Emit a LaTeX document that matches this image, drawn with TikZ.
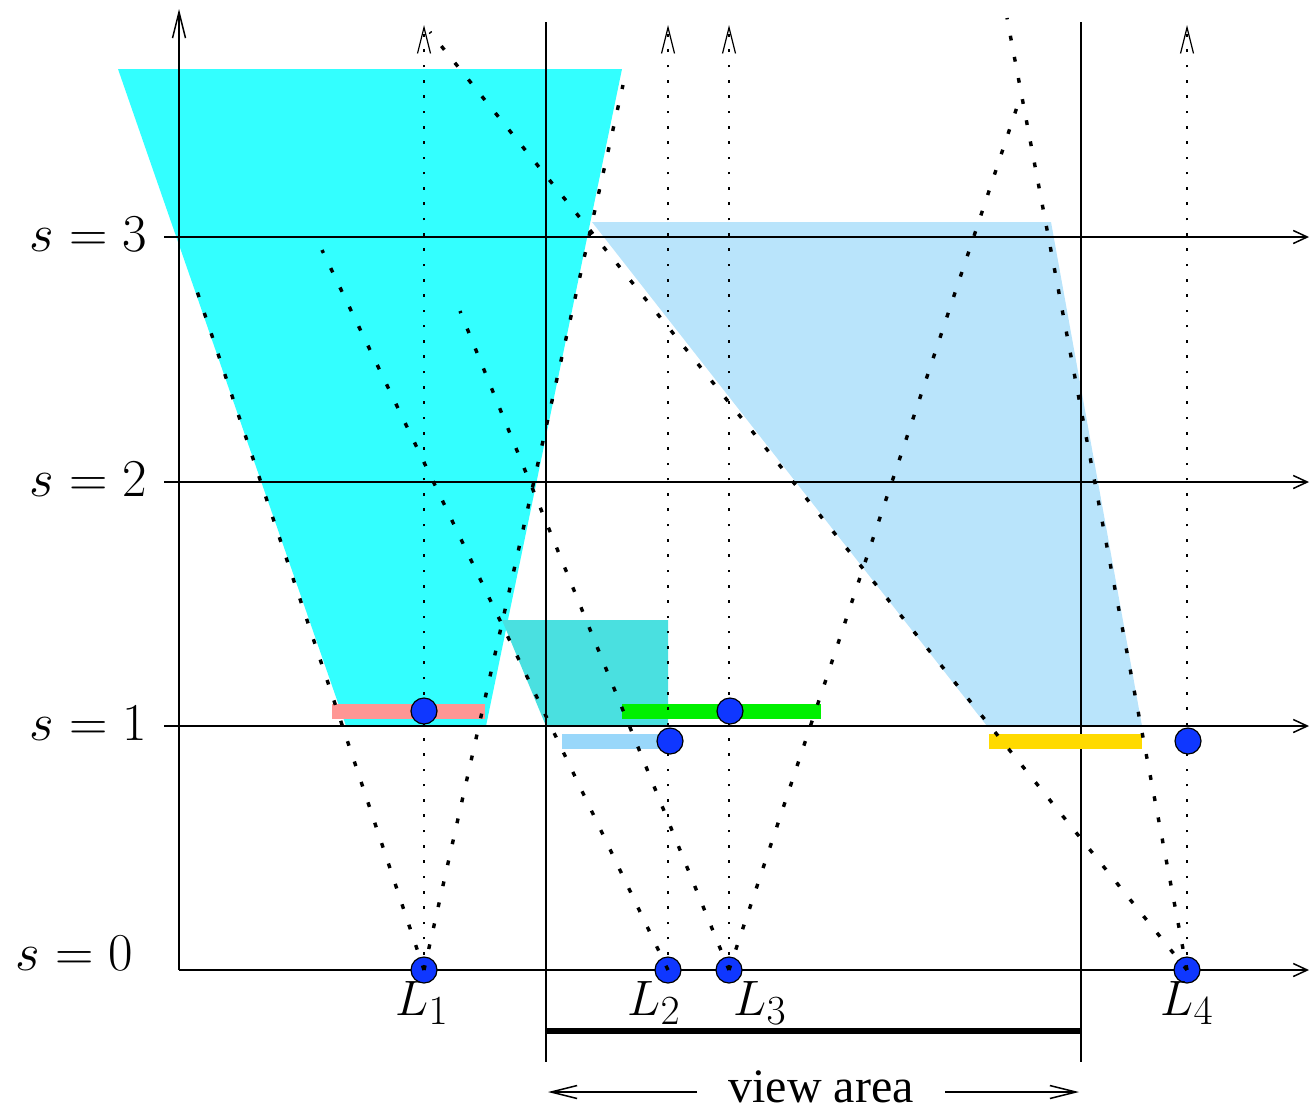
\documentclass[tikz,border=0pt]{standalone}
\usepackage{fontspec}
\newfontfamily\timesfont{Liberation Serif}
\usetikzlibrary{arrows.meta}
\definecolor{cyanfill}{RGB}{51,255,255}
\definecolor{tealfill}{RGB}{74,224,224}
\definecolor{skyfill}{RGB}{185,228,251}
\definecolor{pinkbar}{RGB}{255,150,148}
\definecolor{greenbar}{RGB}{0,240,0}
\definecolor{bluebar}{RGB}{153,215,250}
\definecolor{goldbar}{RGB}{255,218,0}
\definecolor{dotblue}{RGB}{15,55,255}
\begin{document}
\begin{tikzpicture}[x=0.5pt,y=-0.5pt,
  axisline/.style={line width=0.75pt},
  barbtip/.style={-{Straight Barb[length=13pt,width=6.5pt]}},
  shorttip/.style={-{Straight Barb[length=7pt,width=6.5pt]}},
  conedash/.style={line width=1.7pt, dash pattern=on 2.4pt off 8.35pt},
  raydot/.style={line width=0.6pt, dash pattern=on 1.3pt off 6.35pt},
  srcdot/.style={circle, draw=black, line width=0.6pt, fill=dotblue, minimum size=13pt, inner sep=0pt},
  mlabel/.style={font=\fontsize{24.88}{30}\selectfont, inner sep=0pt},
  slabel/.style={mlabel, scale=1.07, transform shape},
]
\useasboundingbox (0,0) rectangle (1310,1110);

% shaded regions
\fill[cyanfill] (118,69) -- (622,69) -- (486,726) -- (346,726) -- cycle;
\fill[tealfill] (502,620) -- (668,620) -- (668,726) -- (546,726) -- cycle;
\fill[skyfill] (592,222) -- (1051,222) -- (1142,726) -- (987,726) -- cycle;

% axes and level lines
\coordinate (O) at (179,970);
\coordinate (Ytop) at (179,9);
\draw[axisline, barbtip] (O) -- (Ytop);
\coordinate (h0a) at (179,970);  \coordinate (h0b) at (1309,970);
\coordinate (h1a) at (164,726);  \coordinate (h1b) at (1309,726);
\coordinate (h2a) at (164,482);  \coordinate (h2b) at (1309,482);
\coordinate (h3a) at (164,237);  \coordinate (h3b) at (1309,237);
\draw[axisline, shorttip] (h0a) -- (h0b);
\draw[axisline, shorttip] (h1a) -- (h1b);
\draw[axisline, shorttip] (h2a) -- (h2b);
\draw[axisline, shorttip] (h3a) -- (h3b);

% view area
\coordinate (vLt) at (546,22);  \coordinate (vLb) at (546,1062);
\coordinate (vRt) at (1081,22); \coordinate (vRb) at (1081,1062);
\draw[axisline] (vLt) -- (vLb);
\draw[axisline] (vRt) -- (vRb);
\coordinate (vbarA) at (546,1031); \coordinate (vbarB) at (1081,1031);
\draw[line width=3pt] (vbarA) -- (vbarB);
\node[anchor=base, font=\timesfont\fontsize{24}{28}\selectfont, inner ysep=0pt, inner xsep=15.5pt] (va) at (821,1102) {view area};
\coordinate (vaL) at (548,1092);
\coordinate (vaR) at (1079,1092);
\draw[axisline, barbtip] (va.west |- vaL) -- (vaL);
\draw[axisline, barbtip] (va.east |- vaR) -- (vaR);

% interval bars at s=1
\fill[pinkbar] (332,703.5) rectangle (485,718.5);
\fill[greenbar] (622,703.5) rectangle (821,718.5);
\fill[bluebar] (562,734) rectangle (668,749);
\fill[goldbar] (989,734) rectangle (1142,749);

% sources at s=0 (coordinates first for the vertical rays)
\coordinate (L1) at (424,970);
\coordinate (L2) at (668,970);
\coordinate (L3) at (729,970);
\coordinate (L4) at (1187,970);
\coordinate (T1) at (424,25);
\coordinate (T2) at (668,25);
\coordinate (T3) at (729,25);
\coordinate (T4) at (1187,25);
\draw[raydot, barbtip] (L1) -- (T1);
\draw[raydot, barbtip] (L2) -- (T2);
\draw[raydot, barbtip] (L3) -- (T3);
\draw[raydot, barbtip] (L4) -- (T4);

\node[srcdot] (S1) at (L1) {};
\node[srcdot] (S2) at (L2) {};
\node[srcdot] (S3) at (L3) {};
\node[srcdot] (S4) at (L4) {};

\node[srcdot] (M1) at (424,711) {};
\node[srcdot] (M2) at (670,741) {};
\node[srcdot] (M3) at (730,711) {};
\node[srcdot] (M4) at (1188,741) {};

% light cone lines
\coordinate (c1l) at (197,291);
\coordinate (c1r) at (623,85);
\coordinate (c2l) at (322,250);
\coordinate (c3l) at (460,311);
\coordinate (c3r) at (1018,104);
\coordinate (c4l) at (430,32);
\coordinate (c4r) at (1007,18);
\draw[conedash] (S1.center) -- (c1l);
\draw[conedash] (S1.center) -- (c1r);
\draw[conedash] (S2.center) -- (c2l);
\draw[conedash] (S3.center) -- (c3l);
\draw[conedash] (S3.center) -- (c3r);
\draw[conedash] (S4.center) -- (c4l);
\draw[conedash] (S4.center) -- (c4r);

% labels
\node[slabel, anchor=base east] (s3) at (147,251) {$s=3$};
\node[slabel, anchor=base east] (s2) at (147,496) {$s=2$};
\node[slabel, anchor=base east] (s1) at (147,740) {$s=1$};
\node[slabel, anchor=base east] (s0) at (133,970) {$s=0$};
\node[mlabel, anchor=base] (lab1) at (422,1015) {$L_1$};
\node[mlabel, anchor=base] (lab2) at (654,1015) {$L_2$};
\node[mlabel, anchor=base] (lab3) at (760,1015) {$L_3$};
\node[mlabel, anchor=base] (lab4) at (1187,1015) {$L_4$};
\end{tikzpicture}
\end{document}
